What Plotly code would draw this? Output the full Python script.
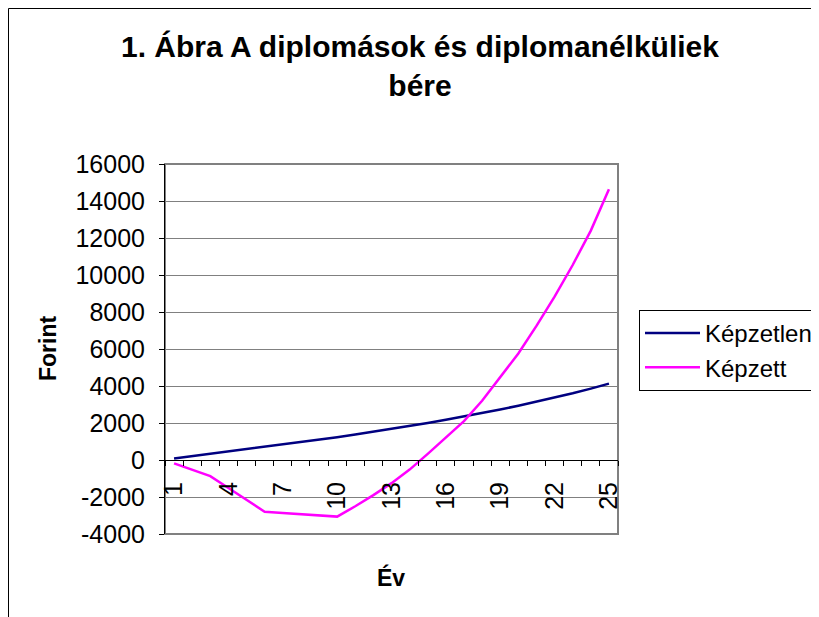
import plotly.graph_objects as go

# Data
years = [1, 2, 3, 4, 5, 6, 7, 8, 9, 10, 11, 12, 13,
         14, 15, 16, 17, 18, 19, 20, 21, 22, 23, 24, 25]
kepzetlen = [80, 205, 330, 455, 580, 710, 840, 970, 1100, 1235, 1375, 1525, 1680,
             1840, 2005, 2175, 2350, 2535, 2730, 2935, 3150, 3375, 3610, 3860, 4130]
kepzett = [-180, -525, -870, -1510, -2150, -2800, -2870, -2940, -3000, -3060, -2500, -1900, -1250,
           -520, 330, 1200, 2100, 3200, 4450, 5760, 7250, 8830, 10540, 12400, 14630]
x_labels = [1, 4, 7, 10, 13, 16, 19, 22, 25]
y_ticks = [-4000, -2000, 0, 2000, 4000, 6000, 8000, 10000, 12000, 14000, 16000]

# the page body adds an 8px margin, so the figure is drawn 8px smaller
# and every position below is given in window pixels minus that offset
OFF = 8
W, H = 819 - OFF, 617 - OFF
L, R, T, B = 165 - OFF, 618 - OFF, 164 - OFF, 534 - OFF  # plot area
pw, ph = R - L, B - T


def px(x):
    return (x - OFF - L) / pw


def py(y):
    return (B - (y - OFF)) / ph


FONT = "Liberation Sans, Arial, sans-serif"

fig = go.Figure()
fig.add_trace(go.Scatter(x=years, y=kepzetlen, name="Képzetlen", mode="lines",
                         line={"color": "#000080", "width": 2.5}))
fig.add_trace(go.Scatter(x=years, y=kepzett, name="Képzett", mode="lines",
                         line={"color": "#FF00FF", "width": 2.5}))

fig.update_layout(
    width=W,
    height=H,
    margin={"l": L, "r": W - R, "t": T, "b": H - B, "autoexpand": False},
    paper_bgcolor="white",
    plot_bgcolor="white",
    font={"family": FONT, "color": "black", "size": 25},
    title={
        "text": "<b>1. Ábra A diplomások és diplomanélküliek<br>bére</b>",
        "x": (420 - OFF) / W,
        "xanchor": "center",
        "y": 1 - 49 / H,
        "yanchor": "top",
        "yref": "container",
        "font": {"size": 30, "family": FONT},
    },
    showlegend=True,
    legend={
        "x": px(639),
        "xanchor": "left",
        "y": py(310),
        "yanchor": "top",
        "bordercolor": "black",
        "borderwidth": 1,
        "font": {"size": 24},
        "bgcolor": "white",
        "itemwidth": 55,
    },
)

fig.update_xaxes(
    range=[0.5, 25.5],
    tickmode="array",
    tickvals=x_labels,
    ticktext=[str(v) for v in x_labels],
    tickangle=-90,
    ticks="",
    showgrid=False,
    zeroline=False,
    showline=True,
    linecolor="black",
    linewidth=1,
    anchor="free",
    position=py(460),
    ticklabelstandoff=11,
    minor={"tickvals": [v + 0.5 for v in range(0, 26)], "ticks": "outside",
           "ticklen": 5, "tickcolor": "black", "showgrid": False},
)
fig.update_yaxes(
    range=[-4000, 16000],
    tickmode="array",
    tickvals=y_ticks,
    ticktext=[str(v) for v in y_ticks],
    ticks="outside",
    ticklen=5,
    tickcolor="black",
    showgrid=True,
    gridcolor="#808080",
    gridwidth=1,
    zeroline=False,
    showline=True,
    linecolor="black",
    linewidth=1,
    ticklabelstandoff=9,
)

# plot area frame (gray) and outer chart frame (black)
fig.add_shape(type="rect", xref="paper", yref="paper", x0=0, x1=1, y0=0, y1=1,
              line={"color": "#808080", "width": 2}, layer="below")
fig.add_shape(type="rect", xref="paper", yref="paper",
              x0=px(8.5), x1=px(840), y0=py(640), y1=py(8.5),
              line={"color": "black", "width": 1}, layer="below")

fig.add_annotation(text="<b>Forint</b>", xref="paper", yref="paper",
                   x=px(48), y=py(349), textangle=-90, showarrow=False,
                   xanchor="center", yanchor="middle", font={"size": 23})
fig.add_annotation(text="<b>Év</b>", xref="paper", yref="paper",
                   x=px(391), y=py(577), showarrow=False,
                   xanchor="center", yanchor="middle", font={"size": 23})

fig.write_html("out.html")
